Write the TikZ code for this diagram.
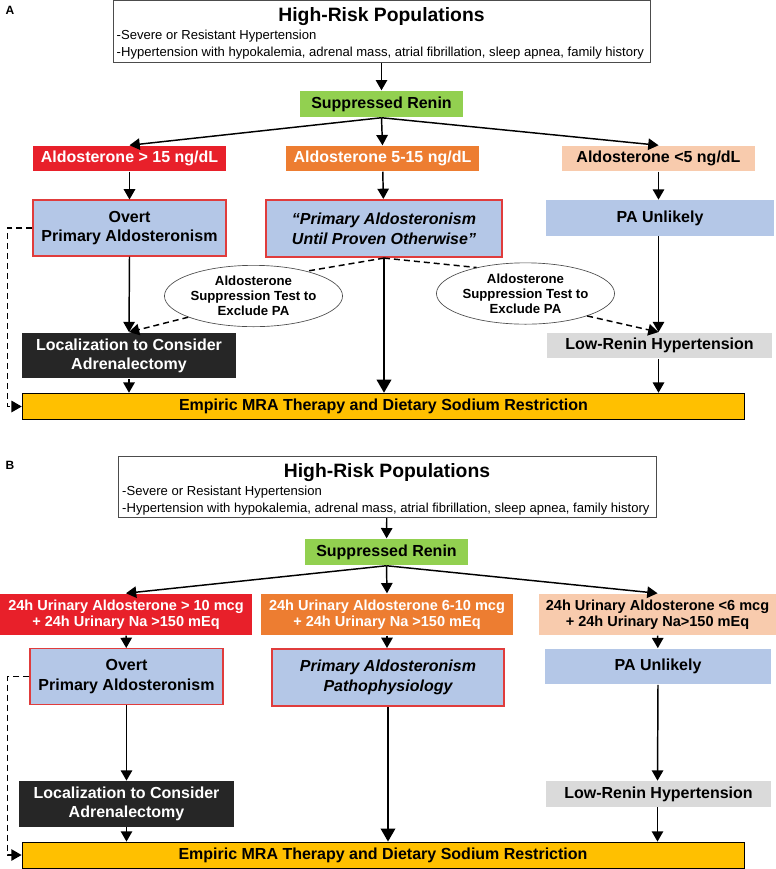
\documentclass[tikz,border=0pt]{standalone}
\usepackage{fontspec}
\setmainfont{Liberation Sans}
\usetikzlibrary{arrows,shapes.geometric,positioning}
\definecolor{renin}{HTML}{92D050}
\definecolor{high}{HTML}{E8202A}
\definecolor{mid}{HTML}{ED7D31}
\definecolor{low}{HTML}{F8CBAD}
\definecolor{pabox}{HTML}{B4C7E7}
\definecolor{edgered}{HTML}{E03C3C}
\definecolor{dark}{HTML}{262626}
\definecolor{lowrenin}{HTML}{DADADA}
\definecolor{mra}{HTML}{FFC000}

\begin{document}
\begin{tikzpicture}[->,>=triangle 60,x=0.75pt,y=-0.75pt,line width=1.1pt]
\tikzstyle{every node}=[inner sep=0pt]
\tikzstyle{box}=[shape=rectangle,align=center,font=\bfseries\fontsize{12}{14.4}\selectfont]
\tikzstyle{riskbox}=[shape=rectangle,draw=black!70,line width=0.6pt,minimum width=402.75pt,minimum height=46pt]
\tikzstyle{title}=[font=\bfseries\fontsize{14.5}{17}\selectfont]
\tikzstyle{lines}=[anchor=west,align=left,font=\fontsize{9.8}{12.75}\selectfont]
\tikzstyle{renbox}=[box,fill=renin,minimum width=122.25pt,minimum height=19.5pt]
\tikzstyle{aldo}=[box,minimum width=144.75pt,minimum height=18.75pt]
\tikzstyle{urine}=[box,font=\bfseries\fontsize{10.9}{12}\selectfont,minimum height=30.75pt]
\tikzstyle{overt}=[box,fill=pabox,draw=edgered,line width=0.8pt,minimum width=144.75pt,minimum height=42pt]
\tikzstyle{paprob}=[box,fill=pabox,draw=edgered,line width=1.6pt,font=\bfseries\itshape\fontsize{12}{15}\selectfont]
\tikzstyle{unlikely}=[box,fill=pabox,minimum width=171pt,minimum height=26.5pt]
\tikzstyle{supp}=[shape=ellipse,draw=black!70,line width=0.5pt,fill=white,align=center,minimum width=129.75pt,minimum height=46pt,font=\bfseries\fontsize{9.9}{11.25}\selectfont]
\tikzstyle{locbox}=[box,fill=dark,text=white,minimum width=160.5pt,minimum height=34pt]
\tikzstyle{lowbox}=[box,fill=lowrenin,minimum width=168.75pt,minimum height=19pt]
\tikzstyle{mrabox}=[box,fill=mra,draw=black,line width=0.7pt,minimum width=542pt,minimum height=20pt]
\tikzstyle{dashlink}=[dashed,dash pattern=on 4.5pt off 3pt]
\useasboundingbox (0,0) rectangle (776,869);

% panel A
\node[font=\bfseries\fontsize{9}{10}\selectfont] (lblA) at (10,10) {A};
\node[riskbox] (riskA) at (381.5,31.5) {};
\node[title] (titleA) at (381.5,17) {High-Risk Populations};
\node[lines] (linesA) at (116,45) {-Severe or Resistant Hypertension\\-Hypertension with hypokalemia, adrenal mass, atrial fibrillation, sleep apnea, family history};
\node[renbox] (reninA) at (381.5,104) {Suppressed Renin};
\node[aldo,fill=high,text=white] (gtA) at (129.5,158.5) {Aldosterone > 15 ng/dL};
\node[aldo,fill=mid,text=white] (midA) at (382.5,158.5) {Aldosterone 5-15 ng/dL};
\node[aldo,fill=low] (ltA) at (658.5,158.5) {Aldosterone <5 ng/dL};
\node[overt] (overtA) at (129.5,228) {Overt\\Primary Aldosteronism};
\node[paprob,minimum width=177pt,minimum height=42.75pt] (paA) at (384,228.5) {``Primary Aldosteronism\\Until Proven Otherwise''};
\node[unlikely] (unlikelyA) at (660,218) {PA Unlikely};
\node[supp] (suppLA) at (253.5,296) {Aldosterone\\Suppression Test to\\Exclude PA};
\node[supp] (suppRA) at (525.5,293.5) {Aldosterone\\Suppression Test to\\Exclude PA};
\node[locbox] (locA) at (129,355.5) {Localization to Consider\\Adrenalectomy};
\node[lowbox] (lowA) at (659.5,345.5) {Low-Renin Hypertension};
\node[mrabox] (mraA) at (383.5,406.5) {Empiric MRA Therapy and Dietary Sodium Restriction};

\path (riskA) edge (reninA)
	(reninA.south) edge (gtA.north)
	(reninA.south) edge (midA.north)
	(reninA.south) edge (ltA.north)
	(gtA) edge (overtA)
	(midA) edge (paA)
	(ltA.south) edge (ltA.south |- unlikelyA.north)
	(overtA.south) edge (locA.north)
	(paA.south) edge[line width=1.7pt] (paA.south |- mraA.north)
	(paA.south) edge[dashlink,-] (suppLA.25)
	(paA.south) edge[dashlink,-] (suppRA.152)
	(suppLA.198) edge[dashlink] (locA.north)
	(suppRA.340) edge[dashlink] (ltA.south |- lowA.north)
	(ltA.south |- unlikelyA.south) edge (ltA.south |- lowA.north)
	(locA.south) edge[dashlink] (locA.south |- mraA.north)
	(ltA.south |- lowA.south) edge (ltA.south |- mraA.north);
\draw[dashlink] (overtA.west) -- ++(-25,0) |- (mraA.west);

% panel B
\node[font=\bfseries\fontsize{9}{10}\selectfont] (lblB) at (10,465) {B};
\node[riskbox,minimum width=403.5pt] (riskB) at (387,487) {};
\node[title] (titleB) at (387,473) {High-Risk Populations};
\node[lines] (linesB) at (121.5,501) {-Severe or Resistant Hypertension\\-Hypertension with hypokalemia, adrenal mass, atrial fibrillation, sleep apnea, family history};
\node[renbox] (reninB) at (386.5,552) {Suppressed Renin};
\node[urine,fill=high,text=white,minimum width=189pt] (gtB) at (126,614.5) {24h Urinary Aldosterone > 10 mcg\\+ 24h Urinary Na >150 mEq};
\node[urine,fill=mid,text=white,minimum width=189pt] (midB) at (387,614.5) {24h Urinary Aldosterone 6-10 mcg\\+ 24h Urinary Na >150 mEq};
\node[urine,fill=low,minimum width=177.75pt] (ltB) at (657.5,614.5) {24h Urinary Aldosterone <6 mcg\\+ 24h Urinary Na>150 mEq};
\node[overt] (overtB) at (126.5,676.5) {Overt\\Primary Aldosteronism};
\node[paprob,minimum width=174pt,minimum height=42.75pt] (paB) at (388,677.5) {Primary Aldosteronism\\Pathophysiology};
\node[unlikely,minimum width=169.5pt] (unlikelyB) at (658,666.5) {PA Unlikely};
\node[locbox,minimum width=161.25pt] (locB) at (126.5,804) {Localization to Consider\\Adrenalectomy};
\node[lowbox] (lowB) at (658.5,794) {Low-Renin Hypertension};
\node[mrabox,minimum width=541.5pt,minimum height=19.5pt] (mraB) at (383,855) {Empiric MRA Therapy and Dietary Sodium Restriction};

\path (riskB) edge (reninB)
	(reninB.south) edge (gtB.north)
	(reninB.south) edge (midB.north)
	(reninB.south) edge (ltB.north)
	(gtB) edge (overtB)
	(midB.south) edge (midB.south |- paB.north)
	(ltB) edge (unlikelyB)
	(overtB.south) edge (locB.north)
	(paB.south) edge[line width=1.7pt] (paB.south |- mraB.north)
	(unlikelyB.south) edge (ltB.south |- lowB.north)
	(locB.south) edge[dashlink] (locB.south |- mraB.north)
	(ltB.south |- lowB.south) edge (ltB.south |- mraB.north);
\draw[dashlink] (overtB.west) -- ++(-22,0) |- (mraB.west);
\end{tikzpicture}
\end{document}
